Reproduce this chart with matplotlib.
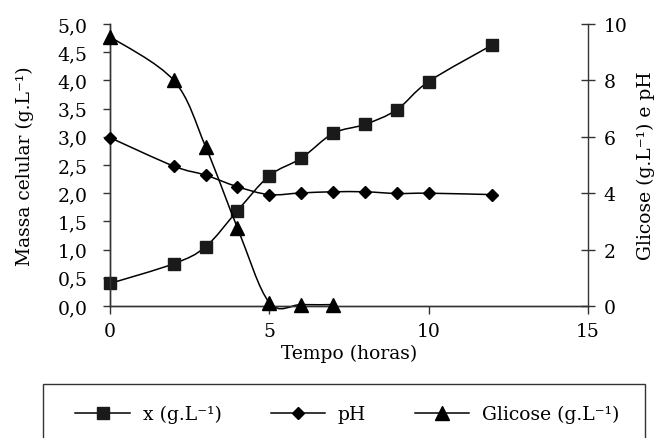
import numpy as np
import matplotlib
matplotlib.use("Agg")
from matplotlib import pyplot as plt
from matplotlib.path import Path
from matplotlib.patches import PathPatch, Rectangle
from matplotlib.lines import Line2D

# data
tempo = [0, 2, 3, 4, 5, 6, 7, 8, 9, 10, 12]
biomassa = [0.40, 0.75, 1.05, 1.69, 2.31, 2.62, 3.06, 3.22, 3.48, 3.98, 4.63]
ph = [5.97, 4.96, 4.64, 4.23, 3.95, 4.01, 4.05, 4.05, 3.99, 4.00, 3.95]
tempo_glic = [0, 2, 3, 4, 5, 6, 7]
glicose = [9.55, 8.00, 5.65, 2.77, 0.12, 0.05, 0.05]

xticks = [0, 5, 10, 15]
yticks_left = [0, 0.5, 1.0, 1.5, 2.0, 2.5, 3.0, 3.5, 4.0, 4.5, 5.0]
yticklabels_left = ["0,0", "0,5", "1,0", "1,5", "2,0", "2,5", "3,0", "3,5", "4,0", "4,5", "5,0"]
yticks_right = [0, 2, 4, 6, 8, 10]

labels = ["x (g.L\u207b\u00b9)", "pH", "Glicose (g.L\u207b\u00b9)"]

plt.rcParams["font.family"] = ["DejaVu Serif"]
plt.rcParams["font.size"] = 13.5

W, H = 654, 439


def smooth(ax, xs, ys, **kw):
    # excel style smoothed line (bezier through the points)
    pts = np.column_stack([xs, ys]).astype(float)
    n = len(pts)
    verts = [pts[0]]
    codes = [Path.MOVETO]
    for i in range(n - 1):
        p0 = pts[max(i - 1, 0)]
        p1 = pts[i]
        p2 = pts[i + 1]
        p3 = pts[min(i + 2, n - 1)]
        verts += [p1 + (p2 - p0) / 6, p2 - (p3 - p1) / 6, p2]
        codes += [Path.CURVE4] * 3
    patch = PathPatch(Path(verts, codes), fill=False, **kw)
    patch.set_clip_on(False)
    ax.add_patch(patch)


fig = plt.figure(figsize=(W / 100, H / 100), dpi=100)
ax = fig.add_axes([110 / W, 1 - 307 / H, (588 - 110) / W, (307 - 25) / H])
ax2 = ax.twinx()

lw = 1.1
smooth(ax, tempo, biomassa, ec="black", lw=lw)
smooth(ax2, tempo, ph, ec="black", lw=lw)
smooth(ax2, tempo_glic, glicose, ec="black", lw=lw)

ax.plot(tempo, biomassa, ls="none", marker="s", ms=8.5, color="#1a1a1a", clip_on=False, zorder=3)
ax2.plot(tempo, ph, ls="none", marker="D", ms=5.8, color="black", clip_on=False, zorder=3)
ax2.plot(tempo_glic, glicose, ls="none", marker="^", ms=9.5, color="black", clip_on=False, zorder=3)

ax.set_xlim(0, 15)
ax.set_ylim(0, 5)
ax2.set_ylim(0, 10)

ax.set_xticks(xticks)
ax.set_yticks(yticks_left)
ax.set_yticklabels(yticklabels_left)
ax2.set_yticks(yticks_right)

spine_c = "#333333"
for a in (ax, ax2):
    a.spines["top"].set_visible(False)
    for s in a.spines.values():
        s.set_color(spine_c)
        s.set_linewidth(1.0)
ax.spines["right"].set_visible(False)

ax.tick_params(axis="x", direction="out", length=5.5, width=1.0, color=spine_c, pad=6, labelsize=13.5)
ax.tick_params(axis="y", direction="out", length=5, width=1.0, color=spine_c, pad=11, labelsize=13.5)
ax2.tick_params(axis="y", direction="inout", length=9.5, width=1.0, color=spine_c, pad=6.5, labelsize=13.5)

ax.set_xlabel("Tempo (horas)", fontsize=13.5)
ax.set_ylabel("Massa celular (g.L\u207b\u00b9)", fontsize=13.5)
ax2.set_ylabel("Glicose (g.L\u207b\u00b9) e pH", fontsize=13.5)
ax.xaxis.set_label_coords(0.5, -0.135)
ax.yaxis.set_label_coords(-0.16, 0.5)
ax2.yaxis.set_label_coords(1.102, 0.5)

# legend box (cut by the bottom edge in the reference)
fig.patches.append(Rectangle((43 / W, 1 - 450 / H), (645 - 43) / W, (450 - 385) / H,
                             transform=fig.transFigure, fill=False, ec=spine_c, lw=1.0))

handles = [
    Line2D([], [], color="black", lw=lw, marker="s", ms=8.5, mfc="#1a1a1a", mec="#1a1a1a"),
    Line2D([], [], color="black", lw=lw, marker="D", ms=5.8),
    Line2D([], [], color="black", lw=lw, marker="^", ms=9.5),
]
fig.legend(handles, labels, loc="center left", bbox_to_anchor=(66 / W, 1 - 415 / H),
           ncol=3, frameon=False, borderpad=0, handlelength=2.9, handletextpad=0.7,
           columnspacing=2.6, fontsize=13.5)

fig.savefig("out.png", dpi=100)
